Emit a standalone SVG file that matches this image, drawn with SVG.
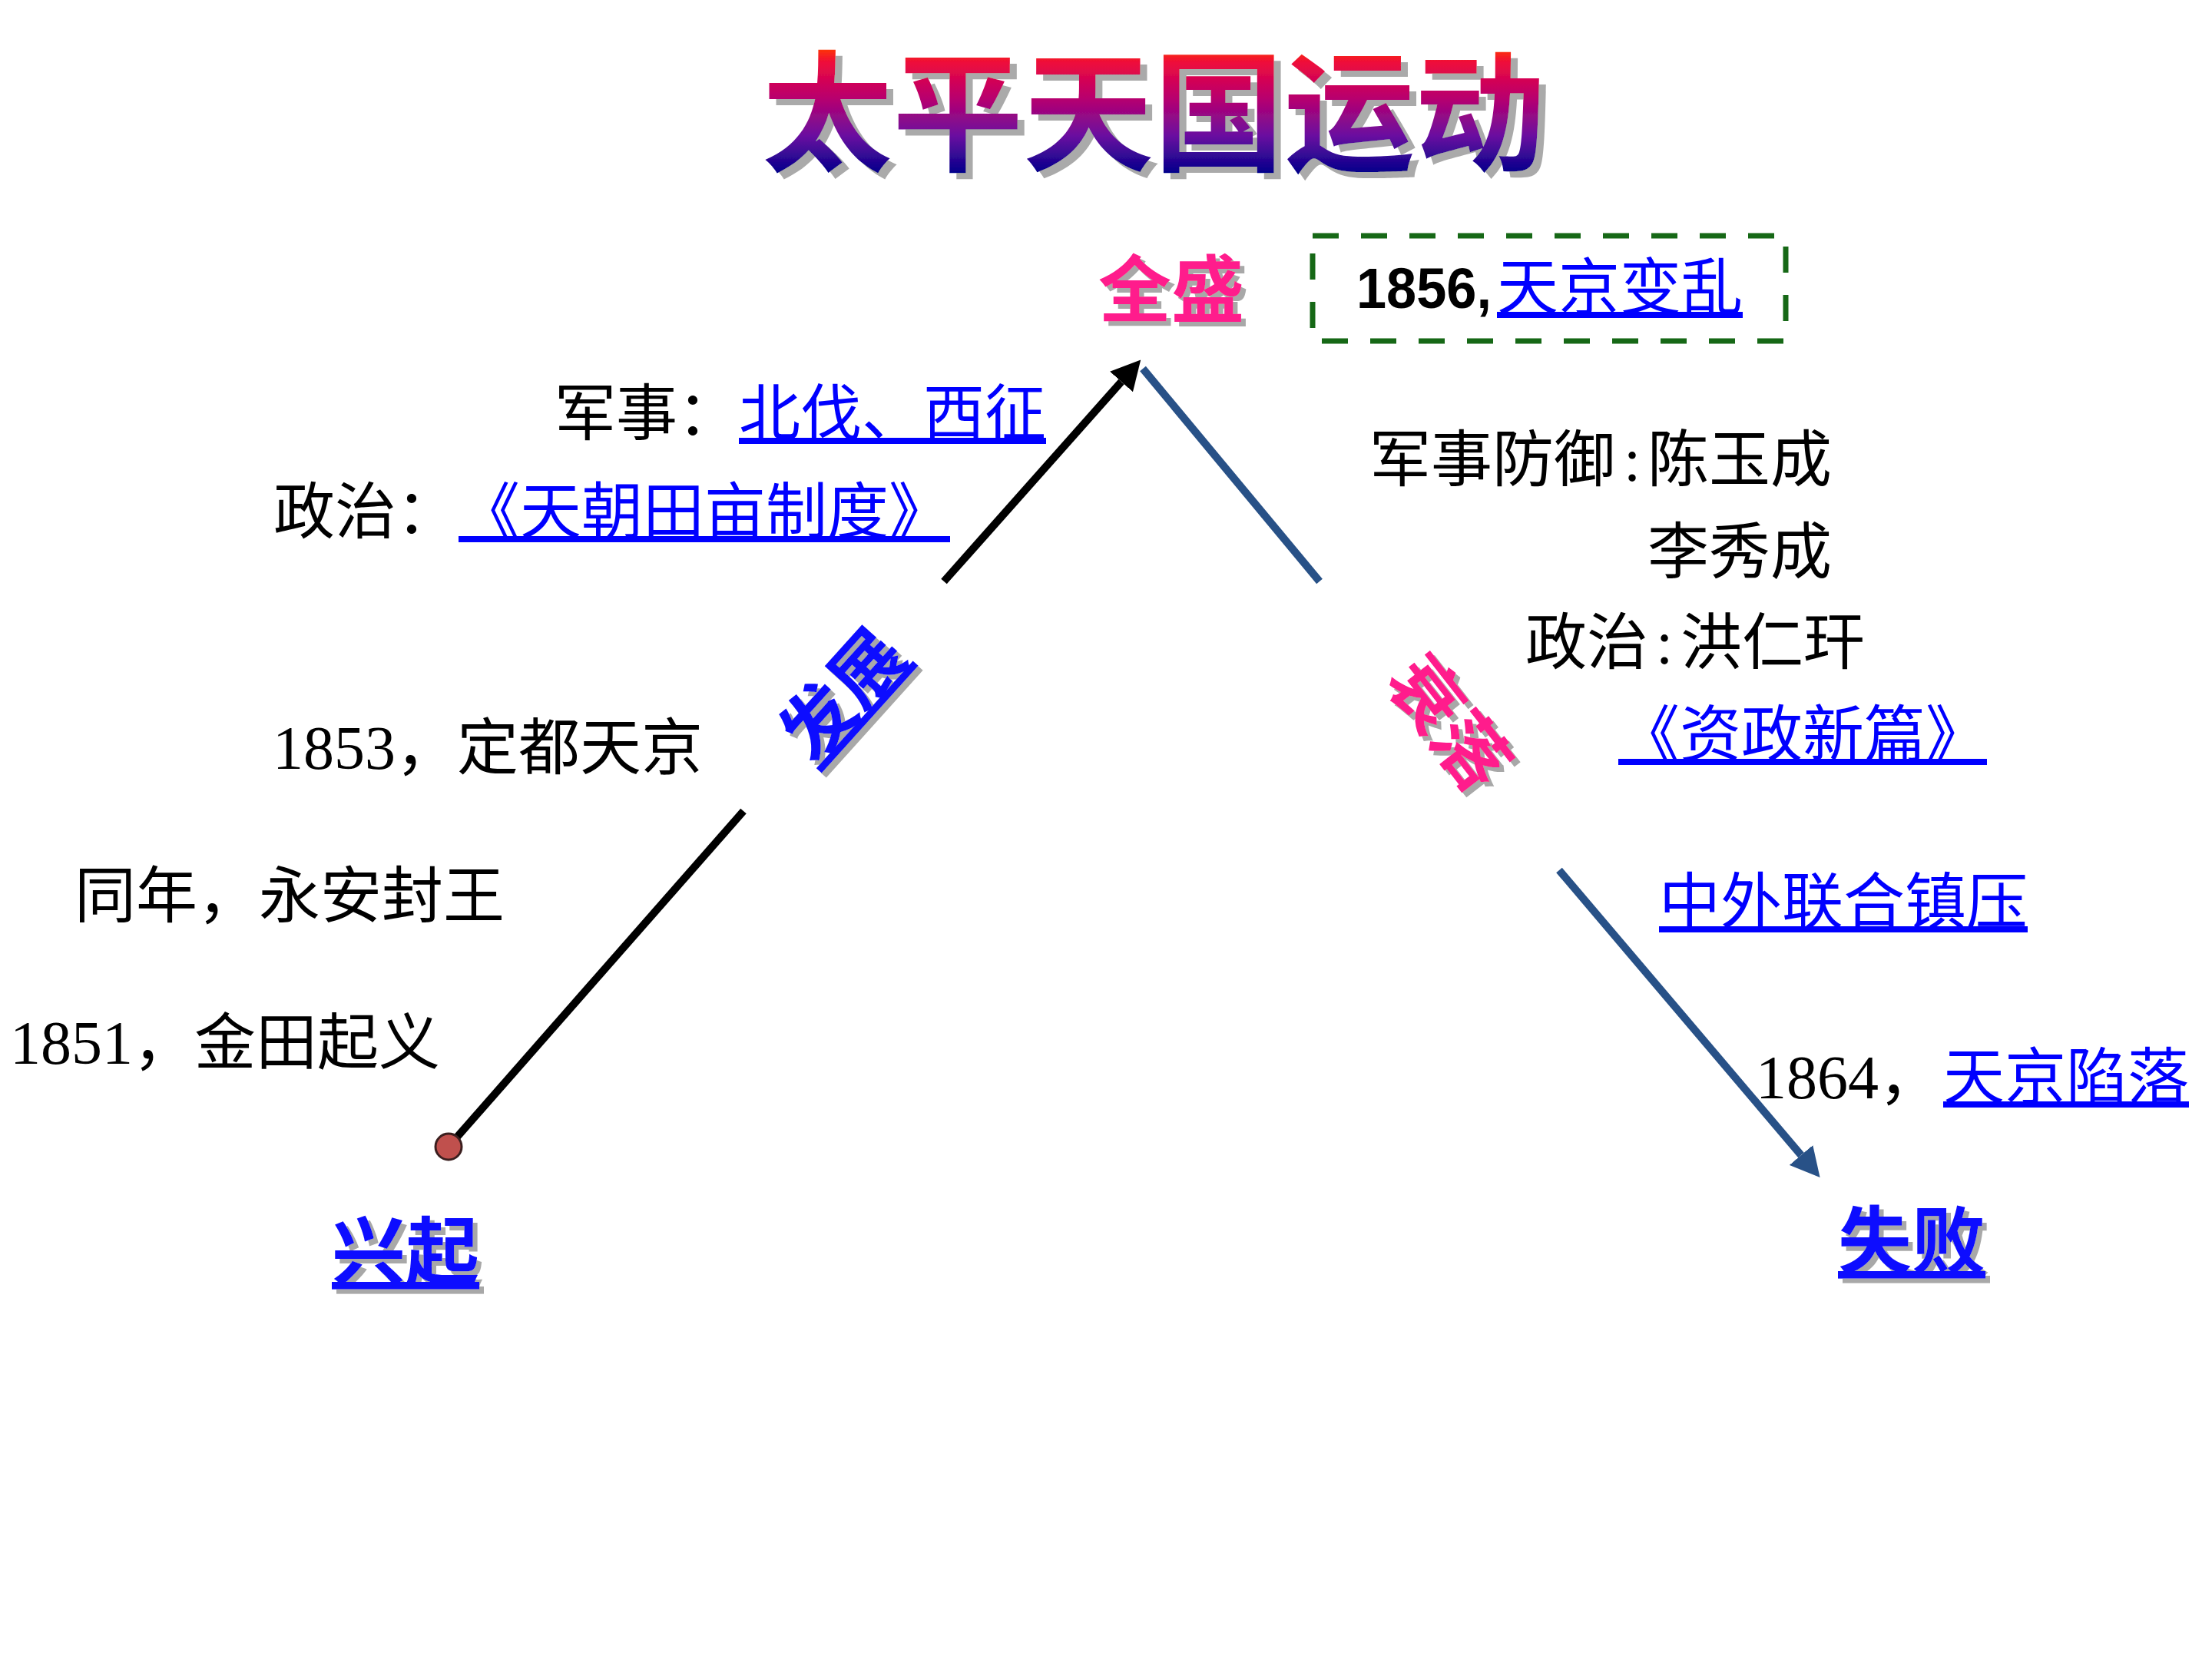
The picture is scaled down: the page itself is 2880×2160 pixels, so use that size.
<svg xmlns="http://www.w3.org/2000/svg" width="2880" height="2160" viewBox="0 0 2880 2160">
<defs>
<style>
text{text-spacing-trim:space-all}
.body{font-family:"Liberation Serif","Noto Sans CJK SC",serif;font-size:80px;fill:#000}
.link{fill:#0000ff;text-decoration:underline}
.cjk{font-family:"Noto Sans CJK SC",sans-serif}
.wa{font-family:"Noto Sans CJK SC",sans-serif;font-weight:700}
.pink{fill:#ff1a8c}
.blue{fill:#0a0aff}
.conn-black{stroke:#000;stroke-width:10;fill:none}
.conn-blue{stroke:#285187;stroke-width:10;fill:none}
</style>
<linearGradient id="titleGrad" gradientUnits="userSpaceOnUse" x1="0" y1="62" x2="0" y2="226">
<stop offset="0" stop-color="#ff3a00"/>
<stop offset="0.12" stop-color="#ee0a3c"/>
<stop offset="0.4" stop-color="#b8006e"/>
<stop offset="0.7" stop-color="#6a10a0"/>
<stop offset="1" stop-color="#00008a"/>
</linearGradient>
<filter id="shadowL" x="-5%" y="-10%" width="115%" height="130%">
<feOffset in="SourceAlpha" dx="9" dy="8" result="o"/>
<feFlood flood-color="#aaaaaa"/>
<feComposite in2="o" operator="in" result="s"/>
<feMerge><feMergeNode in="s"/><feMergeNode in="SourceGraphic"/></feMerge>
</filter>
<filter id="shadowS" x="-10%" y="-10%" width="130%" height="130%">
<feOffset in="SourceAlpha" dx="6" dy="6" result="o"/>
<feFlood flood-color="#a8a8a8"/>
<feComposite in2="o" operator="in" result="s"/>
<feMerge><feMergeNode in="s"/><feMergeNode in="SourceGraphic"/></feMerge>
</filter>
<marker id="arrowBlack" markerUnits="userSpaceOnUse" viewBox="0 0 38 40" markerWidth="38" markerHeight="40" refX="0" refY="20" orient="auto">
<path d="M0,0 L38,20 L0,40 z" fill="#000"/>
</marker>
<marker id="arrowBlue" markerUnits="userSpaceOnUse" viewBox="0 0 38 40" markerWidth="38" markerHeight="40" refX="0" refY="20" orient="auto">
<path d="M0,0 L38,20 L0,40 z" fill="#285187"/>
</marker>
</defs>
<rect width="2880" height="2160" fill="#ffffff"/>

<g id="title" filter="url(#shadowL)">
<text x="992" y="210" class="wa" font-size="170" fill="url(#titleGrad)">太平天国运动</text>
</g>

<g id="connectors">
<line class="conn-black" x1="584" y1="1493" x2="968" y2="1056"/>
<line class="conn-black" x1="1229" y1="757" x2="1460" y2="497" marker-end="url(#arrowBlack)"/>
<line class="conn-blue" x1="1488" y1="480" x2="1718" y2="757"/>
<line class="conn-blue" x1="2030" y1="1133" x2="2345" y2="1504" marker-end="url(#arrowBlue)"/>
<circle cx="584" cy="1493" r="17" fill="#c0504d" stroke="#3b1f1f" stroke-width="3"/>
</g>

<g id="node-quansheng" filter="url(#shadowS)">
<text x="1430" y="412" class="wa pink" font-size="95">全盛</text>
</g>

<g id="node-1856">
<rect x="1709" y="307" width="616" height="137" fill="none" stroke="#166816" stroke-width="7" stroke-dasharray="34 29"/>
<text x="1766" y="401" font-family="Liberation Sans, sans-serif" font-weight="700" font-size="74" textLength="176" lengthAdjust="spacingAndGlyphs" fill="#000">1856,</text>
<text x="1949" y="402" class="cjk link" font-size="80">天京变乱</text>
</g>

<g id="node-fazhan-events">
<text y="566" class="body"><tspan x="722">军事：</tspan><tspan x="962" class="link">北伐、西征</tspan></text>
<text y="694" class="body"><tspan x="356">政治：</tspan><tspan x="597" class="link">《天朝田亩制度》</tspan></text>
</g>

<g id="node-fazhan" filter="url(#shadowS)">
<g transform="translate(1122,927) rotate(-48)">
<text x="0" y="0" text-anchor="middle" class="wa blue" font-size="94" text-decoration="underline">发展</text>
</g>
</g>

<g id="node-shuailuo" filter="url(#shadowS)">
<g transform="translate(1859,962) rotate(52)">
<text x="0" y="0" text-anchor="middle" class="wa pink" font-size="95">衰落</text>
</g>
</g>

<g id="node-xingqi-events">
<text x="355" y="1001" class="body">1853，定都天京</text>
<text x="97" y="1194" class="body">同年，永安封王</text>
<text x="13" y="1385" class="body">1851，金田起义</text>
</g>

<g id="node-xingqi" filter="url(#shadowS)">
<text x="432" y="1664" class="wa blue" font-size="96" text-decoration="underline">兴起</text>
</g>

<g id="node-shuailuo-events">
<text y="626" class="body"><tspan x="1783">军事防御</tspan><tspan x="2114">:</tspan><tspan x="2145">陈玉成</tspan></text>
<text x="2145" y="746" class="body">李秀成</text>
<text y="864" class="body"><tspan x="1986">政治</tspan><tspan x="2156">:</tspan><tspan x="2188">洪仁玕</tspan></text>
<text x="2107" y="984" class="body link">《资政新篇》</text>
<text x="2160" y="1202" class="body link">中外联合镇压</text>
<text y="1430" class="body"><tspan x="2286">1864，</tspan><tspan x="2530" class="link">天京陷落</tspan></text>
</g>

<g id="node-shibai" filter="url(#shadowS)">
<text x="2393" y="1650" class="wa blue" font-size="96" text-decoration="underline">失败</text>
</g>
</svg>
